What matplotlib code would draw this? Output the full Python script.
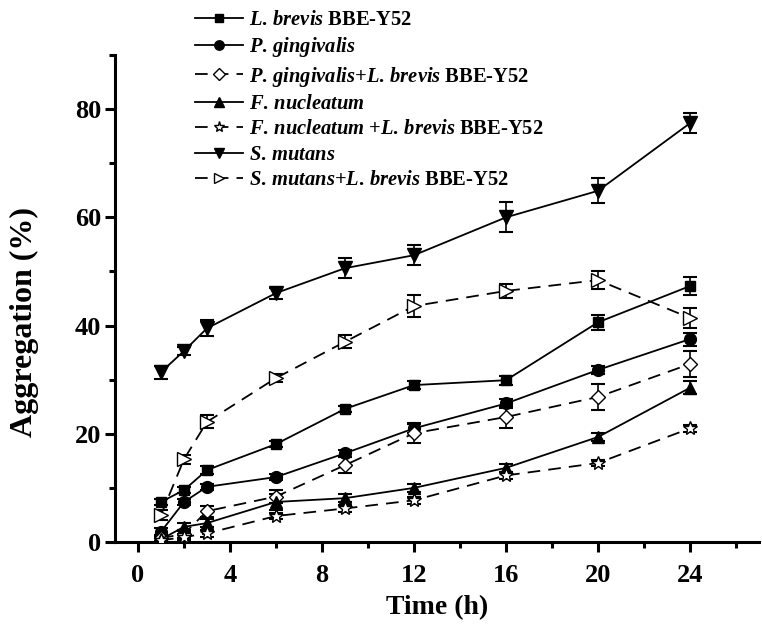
import matplotlib
matplotlib.use("Agg")
import matplotlib.pyplot as plt
from matplotlib.ticker import MultipleLocator

plt.rcParams['font.family'] = ['Liberation Serif', 'DejaVu Serif']
plt.rcParams['font.weight'] = 'bold'
plt.rcParams['mathtext.fontset'] = 'custom'
plt.rcParams['mathtext.it'] = 'Liberation Serif:italic:bold'
plt.rcParams['mathtext.rm'] = 'Liberation Serif:bold'
plt.rcParams['mathtext.bf'] = 'Liberation Serif:bold'

time_h = [1, 2, 3, 6, 9, 12, 16, 20, 24]

lb = [7.4, 9.6, 13.3, 18.1, 24.6, 29.0, 29.9, 40.6, 47.3]
lb_err = [0.6, 0.6, 0.7, 0.6, 0.6, 0.8, 0.8, 1.4, 1.6]

pg = [1.9, 7.4, 10.2, 12.0, 16.4, 21.0, 25.6, 31.8, 37.5]
pg_err = [0.6, 0.6, 0.6, 0.5, 0.6, 0.8, 0.8, 0.8, 1.2]

pg_lb = [0.7, 1.5, 5.7, 8.4, 14.2, 20.1, 23.1, 26.8, 32.9]
pg_lb_err = [0.5, 0.8, 1.0, 1.2, 1.5, 1.8, 2.0, 2.4, 2.4]

fn = [0.5, 2.8, 3.5, 7.4, 8.1, 10.0, 13.7, 19.4, 28.5]
fn_err = [0.4, 0.8, 0.8, 1.5, 0.8, 0.8, 0.8, 0.8, 1.2]

fn_lb = [0.3, 0.9, 1.6, 4.8, 6.2, 7.7, 12.3, 14.6, 21.0]
fn_lb_err = [0.4, 0.6, 0.6, 0.6, 0.6, 0.6, 0.6, 0.6, 0.6]

sm = [31.4, 35.3, 39.5, 46.0, 50.6, 53.0, 60.0, 64.9, 77.4]
sm_err = [1.2, 0.8, 1.5, 1.0, 1.8, 1.8, 2.8, 2.3, 1.8]

sm_lb = [5.0, 15.3, 22.2, 30.3, 37.0, 43.6, 46.4, 48.4, 41.4]
sm_lb_err = [1.0, 0.8, 1.2, 0.8, 1.2, 2.0, 1.3, 1.6, 1.8]

labels = [
    r"$\mathit{L.\,brevis}$ BBE-Y52",
    r"$\mathit{P.\,gingivalis}$",
    r"$\mathit{P.\,gingivalis}$+$\mathit{L.\,brevis}$ BBE-Y52",
    r"$\mathit{F.\,nucleatum}$",
    r"$\mathit{F.\,nucleatum}$ +$\mathit{L.\,brevis}$ BBE-Y52",
    r"$\mathit{S.\,mutans}$",
    r"$\mathit{S.\,mutans}$+$\mathit{L.\,brevis}$ BBE-Y52",
]

series = [
    (lb, lb_err, 's', True, 7.5),
    (pg, pg_err, 'o', True, 8.5),
    (pg_lb, pg_lb_err, 'D', False, 7.5),
    (fn, fn_err, '^', True, 8.5),
    (fn_lb, fn_lb_err, '*', False, 10),
    (sm, sm_err, 'v', True, 9.5),
    (sm_lb, sm_lb_err, '>', False, 9.5),
]

fig = plt.figure(figsize=(7.62, 6.37), dpi=100)
ax = fig.add_axes([115/762, 95/637, 644/762, 487/637])

for (vals, errs, mk, filled, ms), lab in zip(series, labels):
    ax.errorbar(time_h, vals, yerr=errs, fmt='none', ecolor='black',
                elinewidth=1.2, capsize=5, capthick=1.5, zorder=2)
    ls = '-' if filled else (0, (7, 4.5))
    ax.plot(time_h, vals, linestyle=ls, color='black', lw=1.3,
            marker=mk, markersize=ms,
            markerfacecolor='black' if filled else 'white',
            markeredgecolor='black', markeredgewidth=1.0,
            label=lab, zorder=3)

ax.set_xlim(-1, 27)
ax.set_ylim(0, 90)
ax.set_xticks([0, 4, 8, 12, 16, 20, 24])
ax.set_yticks([0, 20, 40, 60, 80])
ax.xaxis.set_minor_locator(MultipleLocator(2))
ax.yaxis.set_minor_locator(MultipleLocator(10))

for s in ['top', 'right']:
    ax.spines[s].set_visible(False)
for s in ['left', 'bottom']:
    ax.spines[s].set_linewidth(2.2)

ax.tick_params(which='major', direction='out', length=7, width=2.2,
               labelsize=19, pad=3)
ax.tick_params(axis='x', which='major', pad=9)
ax.tick_params(which='minor', direction='out', length=4, width=2.2)
for t in ax.get_xticklabels() + ax.get_yticklabels():
    t.set_fontweight('bold')

ax.set_xlabel('Time (h)', fontsize=20, fontweight='bold', labelpad=6)
ax.set_ylabel('Aggregation (%)', fontsize=23, fontweight='bold')
ax.yaxis.set_label_coords(-0.118, 0.452)

leg = ax.legend(loc='upper left', bbox_to_anchor=(195/762, 1 - 10/637),
                bbox_transform=fig.transFigure, frameon=False,
                prop={'family': 'Liberation Serif', 'weight': 'bold', 'size': 14.8},
                handlelength=2.35, handletextpad=0.3, labelspacing=0.26,
                borderpad=0.0, borderaxespad=0.0, markerscale=0.8)

fig.savefig('out.png', dpi=100)
